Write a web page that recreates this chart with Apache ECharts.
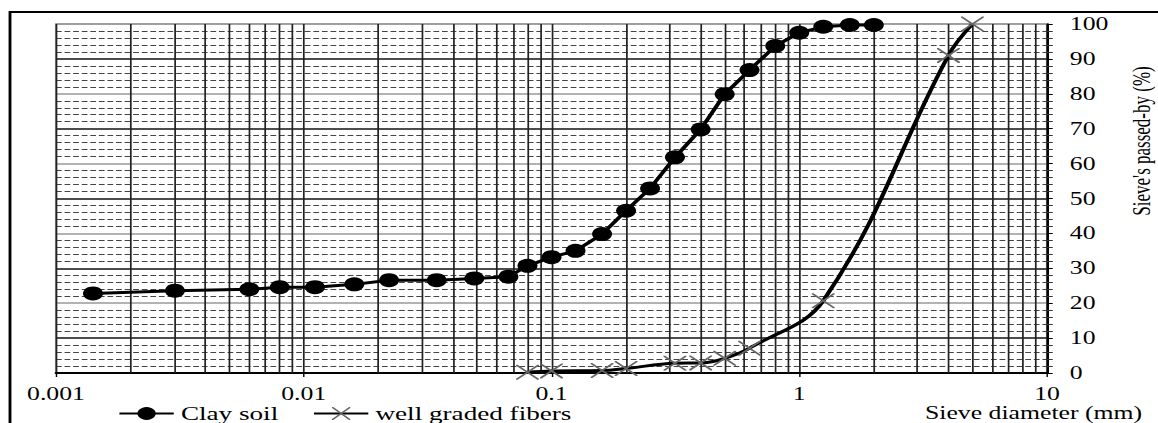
<!DOCTYPE html>
<html>
<head>
<meta charset="utf-8">
<script src="https://cdn.jsdelivr.net/npm/echarts@6/dist/echarts.min.js"></script>
<style>
html,body{margin:0;padding:0;background:#fff;overflow:hidden;}
#main{width:810px;height:423px;transform:scaleX(1.42963);transform-origin:0 0;}
</style>
</head>
<body>
<div id="main"></div>
<script>
// ---- data ----
var clayDiam = [0.00141, 0.00302, 0.00603, 0.008, 0.0111, 0.016, 0.0221, 0.0344, 0.0488, 0.067, 0.08, 0.1, 0.125, 0.16, 0.2, 0.25, 0.315, 0.4, 0.5, 0.63, 0.8, 1.0, 1.25, 1.6, 2.0];
var clayPass = [22.8, 23.6, 24.0, 24.6, 24.6, 25.4, 26.6, 26.6, 27.1, 27.6, 30.7, 33.2, 35.0, 39.8, 46.5, 52.9, 61.8, 69.8, 79.9, 86.8, 93.7, 97.5, 99.2, 99.7, 99.7];
var fiberDiam = [0.08, 0.1, 0.16, 0.2, 0.315, 0.4, 0.5, 0.63, 1.25, 4, 5];
var fiberPass = [0.2, 0.6, 0.7, 1.3, 2.8, 2.9, 4.2, 7.1, 20.7, 91, 100];
var xTickValues = [0.001, 0.01, 0.1, 1, 10];
var xTickLabels = ['0.001', '0.01', '0.1', '1', '10'];
var seriesNames = ['Clay soil', 'well graded fibers'];
var xAxisTitle = 'Sieve diameter (mm)';
var yAxisTitle = "Sieve's passed-by (%)";

var FONT = "'Liberation Serif', 'Times New Roman', serif";
var S = 1158 / 810;

function pairs(xs, ys) { return xs.map(function (x, i) { return [x, ys[i]]; }); }

// minor vertical grid lines (2..9 in each decade)
var minorLines = [];
for (var d = 0; d < xTickValues.length - 1; d++) {
  for (var m = 2; m <= 9; m++) {
    var v = xTickValues[d] * m;
    minorLines.push([{ coord: [v, 0] }, { coord: [v, 100] }]);
  }
}

var crossPath = 'path://M0,0L0.7,0L10,9.3L10,10L9.3,10L0,0.7Z M10,0L10,0.7L0.7,10L0,10L0,9.3L9.3,0Z';

var chart = echarts.init(document.getElementById('main'), null, { renderer: 'svg' });
chart.setOption({
  animation: false,
  backgroundColor: '#fff',
  grid: { left: 56 / S, right: 810 - 1047 / S, top: 24, bottom: 50, show: true, borderColor: '#999', borderWidth: 1.5 },
  legend: {
    data: seriesNames,
    left: 118 / S, top: 404, padding: 0,
    itemWidth: 38, itemHeight: 16, itemGap: 24,
    textStyle: { fontFamily: FONT, fontSize: 19, lineHeight: 16, color: '#000' }
  },
  xAxis: {
    type: 'log', logBase: 10, min: 0.001, max: 10,
    axisLine: { show: true, lineStyle: { color: '#000', width: 2 } },
    axisTick: { show: true, length: 4, lineStyle: { color: '#000' } },
    splitLine: { show: true, lineStyle: { color: '#222', width: 1.2 } },
    axisLabel: {
      margin: 13, fontFamily: FONT, fontSize: 18, lineHeight: 16, color: '#000',
      formatter: function (val) {
        var i = Math.round(Math.log10(val)) - Math.round(Math.log10(xTickValues[0]));
        return xTickLabels[i] !== undefined ? xTickLabels[i] : '';
      }
    }
  },
  yAxis: {
    type: 'value', min: 0, max: 100, interval: 10, position: 'right',
    axisLine: { show: true, lineStyle: { color: '#000', width: 1.5 } },
    axisTick: { show: true, length: 4, lineStyle: { color: '#000' } },
    minorTick: { show: true, splitNumber: 5, length: 4, lineStyle: { color: '#333' } },
    splitLine: { show: true, lineStyle: { color: ['#999', '#111'], width: 1.6 } },
    minorSplitLine: { show: true, lineStyle: { color: '#444', width: 1, type: [4, 2] } },
    axisLabel: { margin: 16, fontFamily: FONT, fontSize: 18, color: '#000' }
  },
  series: [
    {
      name: seriesNames[0], type: 'line', z: 4,
      data: pairs(clayDiam, clayPass),
      symbol: 'circle', symbolSize: 14,
      itemStyle: { color: '#000' },
      lineStyle: { color: '#000', width: 3 },
      markLine: {
        silent: true, z: 1, symbol: ['none', 'none'], animation: false,
        label: { show: false },
        emphasis: { disabled: true },
        lineStyle: { color: '#222', width: 1.2, type: 'solid' },
        data: minorLines
      }
    },
    {
      name: seriesNames[1], type: 'line', z: 3,
      data: pairs(fiberDiam, fiberPass),
      smooth: 0.4,
      symbol: crossPath, symbolSize: [16, 15],
      itemStyle: { color: '#666' },
      lineStyle: { color: '#000', width: 3 }
    }
  ],
  graphic: [
    { type: 'rect', silent: true, z: 100,
      shape: { x: 10 / S, y: 12, width: 1200, height: 600 },
      style: { fill: 'none', stroke: '#000', lineWidth: 2 } },
    { type: 'text', silent: true, z: 100,
      x: 925 / S, y: 413,
      style: { text: xAxisTitle, fontFamily: FONT, fontSize: 18, lineHeight: 16, fill: '#000', textAlign: 'left', textVerticalAlign: 'middle' } },
    { type: 'text', silent: true, z: 100,
      x: 1142 / S, y: 141, rotation: Math.PI / 2,
      style: { text: yAxisTitle, fontFamily: FONT, fontSize: 17, fill: '#000', textAlign: 'center', textVerticalAlign: 'middle' } }
  ]
});
</script>
</body>
</html>
